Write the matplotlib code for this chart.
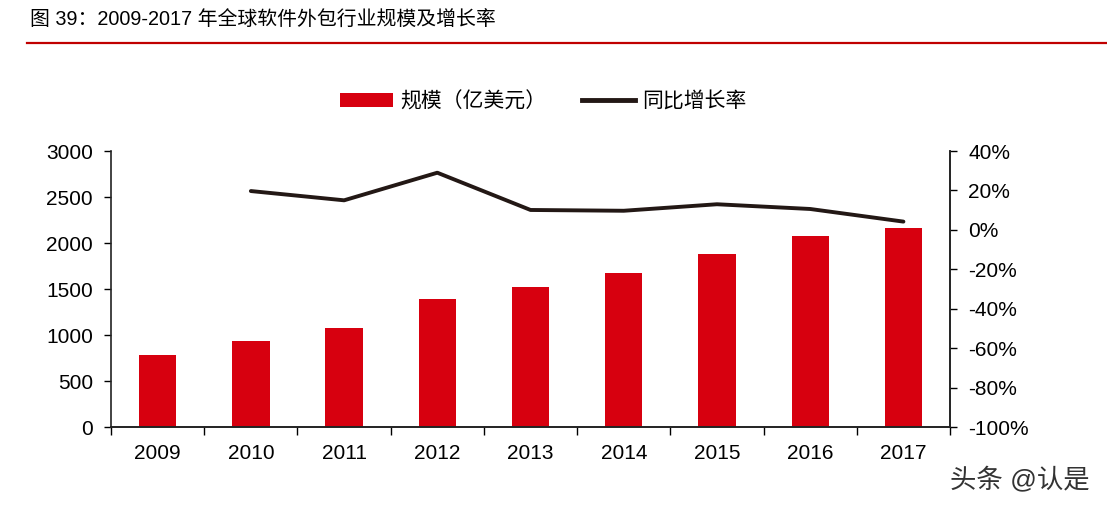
import numpy as np
import matplotlib.pyplot as plt
from matplotlib.lines import Line2D
from matplotlib.patches import Patch

plt.rcParams['font.family'] = ['Liberation Sans', 'Noto Sans CJK SC', 'DejaVu Sans']

years = ['2009', '2010', '2011', '2012', '2013', '2014', '2015', '2016', '2017']
scale = [780, 940, 1075, 1390, 1525, 1670, 1877, 2073, 2160]   # 亿美元
growth = [np.nan, 19.7, 15.0, 29.0, 10.1, 9.7, 13.0, 10.6, 4.2]  # %

bar_red = '#D7000F'
line_dark = '#231815'

fig = plt.figure(figsize=(11.07, 5.08), dpi=100)
ax = fig.add_axes([0.1003, 0.1594, 0.7579, 0.5433])
ax2 = ax.twinx()

x = np.arange(len(years))
ax.bar(x, scale, width=0.4, color=bar_red, zorder=2)
ax2.plot(x, growth, color=line_dark, lw=2.8, solid_capstyle='round', zorder=3)

ax.set_xlim(-0.5, len(years) - 0.5)
ax.set_ylim(0, 3000)
ax.set_yticks(np.arange(0, 3001, 500))
ax2.set_ylim(-100, 40)
ax2.set_yticks(np.arange(-100, 41, 20))
ax2.set_yticklabels([f'{v}%' for v in range(-100, 41, 20)])

ax.set_xticks(x)
ax.set_xticklabels(years)
ax.set_xticks(np.arange(-0.5, len(years), 1), minor=True)
ax.tick_params(axis='x', which='major', length=0, pad=12, labelsize=15)
ax.tick_params(axis='x', which='minor', length=6, width=1, direction='out')
ax.tick_params(axis='y', length=5, width=1, direction='out', labelsize=15, pad=8)
ax2.tick_params(axis='y', length=5, width=1, direction='out', labelsize=15, pad=8)

for a in (ax, ax2):
    a.spines['top'].set_visible(False)
    for s in ('left', 'right', 'bottom'):
        a.spines[s].set_linewidth(1.2)
        a.spines[s].set_color('#222222')
ax2.spines['left'].set_visible(False)

handles = [Patch(facecolor=bar_red, edgecolor='none'),
           Line2D([0], [0], color=line_dark, lw=3.5)]
fig.legend(handles, ['规模（亿美元）', '同比增长率'], loc='center',
           bbox_to_anchor=(543 / 1107, 1 - 101 / 508), ncol=2, frameon=False,
           fontsize=15, handlelength=2.55, handleheight=0.7, columnspacing=1.7,
           handletextpad=0.35)

# 标题和红线
fig.text(30 / 1107, 1 - 20 / 508, '图 39：2009-2017 年全球软件外包行业规模及增长率',
         fontsize=14.3, va='center', ha='left', color='#000000')
fig.add_artist(Line2D([27 / 1107, 1.0], [1 - 42.5 / 508, 1 - 42.5 / 508],
                      color='#C00000', lw=1.6))

# 水印
fig.text(1090 / 1107, 1 - 480 / 508, '头条 @认是', fontsize=19, ha='right',
         va='center', color='#333333')

fig.savefig('out.png', dpi=100)
